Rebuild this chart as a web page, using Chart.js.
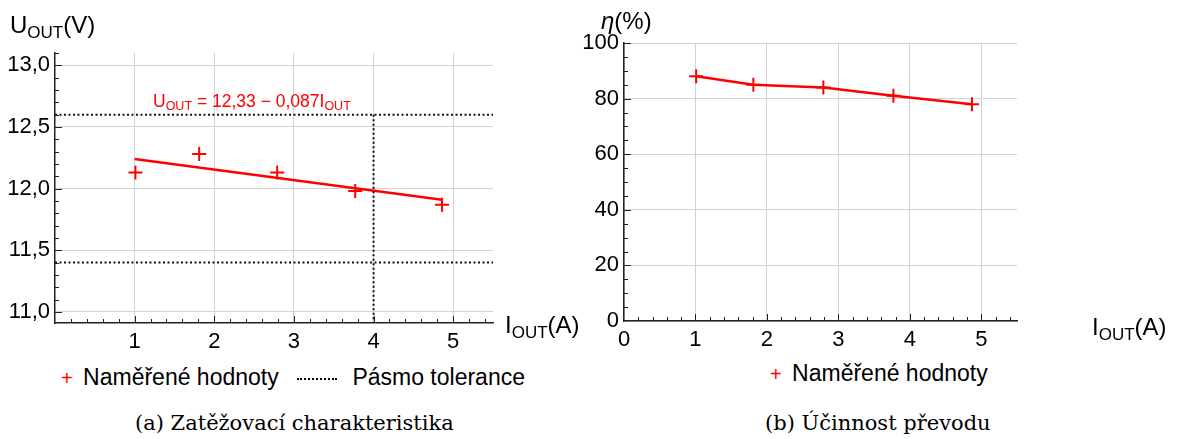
<!DOCTYPE html>
<html lang="cs">
<head>
<meta charset="utf-8">
<script src="https://cdn.jsdelivr.net/npm/chart.js@4"></script>
<style>
  body { margin: 0; background: #fff; width: 1177px; height: 439px; position: relative; overflow: hidden; font-family: "Liberation Sans", Arial, sans-serif; color: #000; }
  canvas { position: absolute; }
  #left { left: 0; top: 0; }
  #right { left: 580px; top: 0; }
  .lbl { position: absolute; font-size: 24px; line-height: 24px; white-space: nowrap; }
  .lbl .s { font-size: 17px; position: relative; top: 5px; }
  .eq { position: absolute; font-size: 17.5px; line-height: 17px; color: #ff0000; white-space: nowrap; }
  .eq .s { font-size: 12.5px; position: relative; top: 3px; }
  .leg { position: absolute; font-size: 23px; line-height: 22px; white-space: nowrap; }
  .plus { color: #ff0000; font-size: 20px; display: inline-block; margin-right: 4px; }
  .dots { display: inline-block; width: 40px; border-top: 2px dotted #000; vertical-align: middle; margin-right: 9px; }
  .cap { position: absolute; font-family: "DejaVu Serif", serif; font-size: 21px; line-height: 22px; white-space: nowrap; }
</style>
</head>
<body>
<canvas id="left" width="560" height="360"></canvas>
<canvas id="right" width="597" height="360"></canvas>

<div class="lbl" style="left:10px; top:13px;">U<span class="s">OUT</span>(V)</div>
<div class="lbl" style="left:505px; top:313px;">I<span class="s">OUT</span>(A)</div>
<div class="eq" style="left:153px; top:93px;">U<span class="s">OUT</span> = 12,33 − 0,087I<span class="s">OUT</span></div>

<div class="lbl" style="left:601px; top:9px;"><i>η</i>(%)</div>
<div class="lbl" style="left:1092px; top:315px;">I<span class="s">OUT</span>(A)</div>

<div class="leg" style="left:61px; top:366px;"><span class="plus">+</span> Naměřené hodnoty</div>
<div class="leg" style="left:297px; top:366px;"><span class="dots"></span> Pásmo tolerance</div>
<div class="leg" style="left:770px; top:362px;"><span class="plus">+</span> Naměřené hodnoty</div>

<div class="cap" style="left:135px; top:412px;">(a) Zatěžovací charakteristika</div>
<div class="cap" style="left:765px; top:412px;">(b) Účinnost převodu</div>

<script>
// (a) output voltage vs. load current
const currentA = [1.01, 1.81, 2.79, 3.77, 4.86];
const voltageA = [12.13, 12.28, 12.13, 11.98, 11.87];
const fitCurrent = [1.0, 4.86];
const fitVoltage = [12.24, 11.91];
const tolUpper = 12.6;
const tolLower = 11.4;
const tolMaxCurrent = 4;
const xTicksA = [1, 2, 3, 4, 5];
const yTicksA = [11, 11.5, 12, 12.5, 13];

// (b) efficiency vs. load current
const currentB = [1.01, 1.81, 2.79, 3.77, 4.87];
const efficiencyB = [88, 85, 84, 81, 78];
const xTicksB = [0, 1, 2, 3, 4, 5];
const yTicksB = [0, 20, 40, 60, 80, 100];

const RED = "#ff0000";
const FONT = { family: "'Liberation Sans', Arial, sans-serif", size: 22 };

const pts = (xs, ys) => xs.map((x, i) => ({ x: x, y: ys[i] }));
const comma = (v, d) => v.toFixed(d).replace(".", ",");

// small inward tick marks like in Mathematica plots
const minorTicks = {
  id: "minorTicks",
  afterDraw(chart, args, opts) {
    const ctx = chart.ctx;
    const a = chart.chartArea;
    ctx.save();
    ctx.strokeStyle = "#222";
    ctx.lineWidth = 1;
    ["x", "y"].forEach((k) => {
      const sc = chart.scales[k];
      const o = opts[k];
      for (let v = o.from; v <= sc.max + 1e-9; v += o.step) {
        const major = Math.abs(v / o.major - Math.round(v / o.major)) < 1e-6;
        const len = major ? 7 : 4;
        const p = Math.round(sc.getPixelForValue(v)) + 0.5;
        ctx.beginPath();
        if (k === "x") {
          if (p <= a.left + 1) continue;
          ctx.moveTo(p, a.bottom);
          ctx.lineTo(p, a.bottom - len);
        } else {
          if (p >= a.bottom - 1) continue;
          ctx.moveTo(a.left, p);
          ctx.lineTo(a.left + len, p);
        }
        ctx.stroke();
      }
    });
    ctx.restore();
  },
};

function axes(xMin, xMax, xTicks, yMin, yMax, yTicks, yWidth, xHeight, yFmt) {
  return {
    x: {
      type: "linear",
      min: xMin,
      max: xMax,
      afterBuildTicks: (s) => { s.ticks = xTicks.map((v) => ({ value: v })); },
      afterFit: (s) => { s.height = xHeight; },
      grid: { color: "#d2d2d2", lineWidth: 1, drawTicks: false },
      border: { color: "#222", width: 1.5 },
      ticks: { color: "#000", font: FONT, padding: 6, maxRotation: 0, autoSkip: false },
    },
    y: {
      type: "linear",
      min: yMin,
      max: yMax,
      afterBuildTicks: (s) => { s.ticks = yTicks.map((v) => ({ value: v })); },
      afterFit: (s) => { s.width = yWidth; },
      grid: { color: "#d2d2d2", lineWidth: 1, drawTicks: false },
      border: { color: "#222", width: 1.5 },
      ticks: { color: "#000", font: FONT, padding: 5, callback: yFmt, autoSkip: false },
    },
  };
}

const tolStyle = { borderColor: "#111", borderWidth: 2, borderDash: [2, 2.5], pointRadius: 0, showLine: true, fill: false };

new Chart(document.getElementById("left"), {
  type: "scatter",
  data: {
    datasets: [
      { data: pts([0, 5.5], [tolUpper, tolUpper]), ...tolStyle },
      { data: pts([0, 5.5], [tolLower, tolLower]), ...tolStyle },
      { data: pts([tolMaxCurrent, tolMaxCurrent], [tolUpper, 10.9]), ...tolStyle },
      { data: pts(fitCurrent, fitVoltage), showLine: true, borderColor: RED, borderWidth: 2.5, pointRadius: 0 },
      {
        data: pts(currentA, voltageA),
        showLine: false,
        pointStyle: "cross",
        pointRadius: 7,
        pointBorderWidth: 2,
        borderColor: RED,
        backgroundColor: RED,
      },
    ],
  },
  options: {
    responsive: false,
    animation: false,
    layout: { padding: { left: 0, right: 67, top: 53, bottom: 0 } },
    scales: axes(0, 5.5, xTicksA, 10.91, 13.1, yTicksA, 55, 37, (v) => comma(v, 1)),
    plugins: {
      legend: { display: false },
      tooltip: { enabled: false },
      minorTicks: { x: { from: 0, step: 0.2, major: 1 }, y: { from: 11, step: 0.1, major: 0.5 } },
    },
  },
  plugins: [minorTicks],
});

new Chart(document.getElementById("right"), {
  type: "scatter",
  data: {
    datasets: [
      {
        data: pts(currentB, efficiencyB),
        showLine: true,
        borderColor: RED,
        backgroundColor: RED,
        borderWidth: 2.5,
        pointStyle: "cross",
        pointRadius: 7,
        pointBorderWidth: 2,
      },
    ],
  },
  options: {
    responsive: false,
    animation: false,
    layout: { padding: { left: 0, right: 160, top: 43, bottom: 0 } },
    scales: axes(0, 5.5, xTicksB, 0, 100, yTicksB, 44, 39, (v) => String(v)),
    plugins: {
      legend: { display: false },
      tooltip: { enabled: false },
      minorTicks: { x: { from: 0, step: 0.2, major: 1 }, y: { from: 0, step: 5, major: 20 } },
    },
  },
  plugins: [minorTicks],
});
</script>
</body>
</html>
